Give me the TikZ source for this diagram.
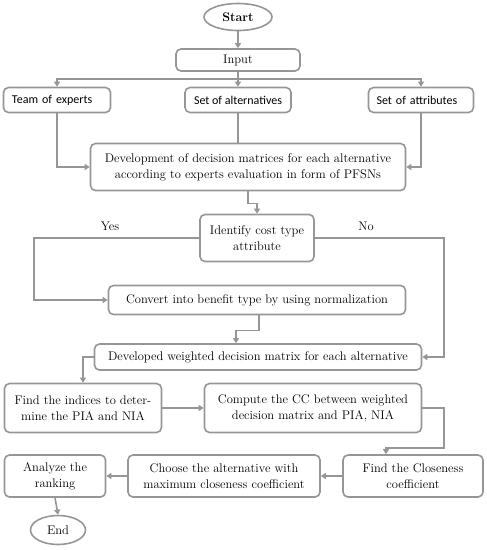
\documentclass[tikz,border=0pt]{standalone}
\usepackage{fontspec}
\newfontfamily\calibrif{Carlito}
\usetikzlibrary{arrows.meta,shapes.geometric}
\definecolor{lgray}{RGB}{150,150,150}
\begin{document}
\begin{tikzpicture}[x=1pt,y=-1pt,
  box/.style={draw=lgray, line width=1.6pt, rounded corners=5pt, align=center, inner sep=0pt, font=\fontsize{12.5}{16}\selectfont},
  sbox/.style={box, font=\calibrif\fontsize{12}{14}\selectfont},
  oval/.style={draw=lgray, line width=1.6pt, ellipse, inner sep=0pt, font=\fontsize{12.5}{15}\selectfont},
  conn/.style={draw=lgray, line width=1.6pt},
  arr/.style={conn, -{Triangle[width=6pt,length=5pt]}},
  lbl/.style={font=\fontsize{12.5}{15}\selectfont}]
\useasboundingbox (0,0) rectangle (487,550);
\node[oval, minimum width=68pt, minimum height=27pt] (start) at (238,17) {\textbf{Start}};
\node[box, minimum width=124pt, minimum height=22pt] (input) at (238,60) {Input};
\node[sbox, minimum width=107pt, minimum height=25pt, text width=90pt, align=left] (team) at (57,100) {Team of experts};
\node[sbox, minimum width=106pt, minimum height=25pt] (alt) at (238,100) {Set of alternatives};
\node[sbox, minimum width=105pt, minimum height=25pt, text width=89pt, align=left] (attr) at (421,100) {Set of attributes};
\node[box, minimum width=315pt, minimum height=47pt] (dev) at (248,167) {Development of decision matrices for each alternative\\according to experts evaluation in form of PFSNs};
\node[box, minimum width=114pt, minimum height=47pt] (ident) at (257,238) {Identify cost type\\attribute};
\node[box, minimum width=297pt, minimum height=29pt] (conv) at (257,300) {Convert into benefit type by using normalization};
\node[box, minimum width=327pt, minimum height=26pt] (devw) at (258,357) {Developed weighted decision matrix for each alternative};
\node[box, minimum width=157pt, minimum height=49pt] (find) at (83,408) {Find the indices to deter-\\mine the PIA and NIA};
\node[box, minimum width=217pt, minimum height=49pt] (comp) at (313,408) {Compute the CC between weighted\\decision matrix and PIA, NIA};
\node[box, minimum width=140pt, minimum height=42pt] (close) at (413,476) {Find the Closeness\\coefficient};
\node[box, minimum width=192pt, minimum height=42pt] (choose) at (224,476) {Choose the alternative with\\maximum closeness coefficient};
\node[box, minimum width=101pt, minimum height=42pt] (anal) at (55,476) {Analyze the\\ranking};
\node[oval, minimum width=55pt, minimum height=29pt] (end) at (58,530) {End};
\node[lbl] (yes) at (110,226) {Yes};
\node[lbl] (no) at (366,226) {No};
\coordinate (split) at (238,79);
\coordinate (ycorner) at (34,238);
\coordinate (ncorner) at (444,238);
\coordinate (ccorner) at (444,448);
\draw[arr] (start) -- (input);
\draw[arr] (input.south) -- (alt.north);
\draw[arr] (split) -| (team.north);
\draw[arr] (split) -| (attr.north);
\draw[arr] (team.south) |- (dev.west);
\draw[conn] (alt.south) -- (alt.south |- dev.north);
\draw[arr] (attr.south) |- (dev.east);
\draw[arr] (dev.south) -- ++(0,12) -| (ident.north);
\draw[arr] (ident.west) -- (ycorner) |- (conv.west);
\draw[arr] (ident.east) -- (ncorner) |- (devw.east);
\draw[arr] ([xshift=2pt]conv.south) -- ++(0,15) -| ([xshift=-22pt]devw.north);
\draw[arr] (devw.west) -| (find.north);
\draw[arr] (find.east) -- (comp.west);
\draw[arr] (comp.east) -| (ccorner) -| ([xshift=-27pt]close.north);
\draw[arr] (close.west) -- (choose.east);
\draw[arr] (choose.west) -- (anal.east);
\draw[arr] (anal.south) -- (end.north);
\end{tikzpicture}
\end{document}
